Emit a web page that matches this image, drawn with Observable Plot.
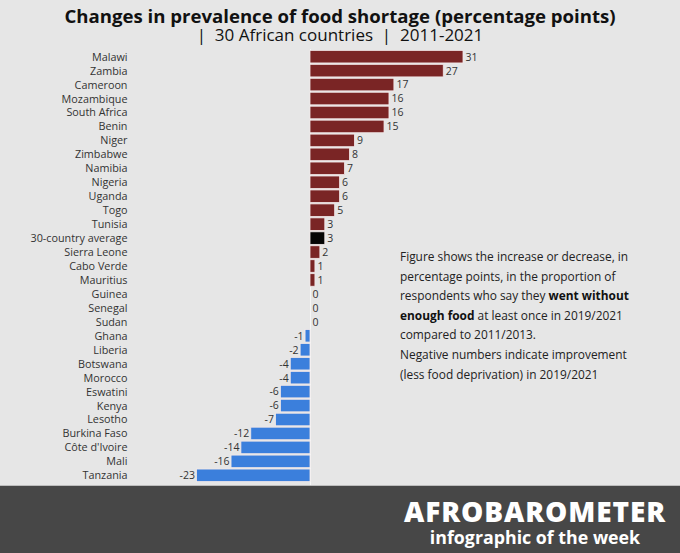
<!DOCTYPE html>
<html>
<head>
<meta charset="utf-8">
<script src="https://cdn.jsdelivr.net/npm/d3@7"></script>
<script src="https://cdn.jsdelivr.net/npm/@observablehq/plot@0.6"></script>
<style>
  html, body { margin: 0; padding: 0; }
  body { width: 680px; height: 553px; background: #e6e6e6; font-family: "Open Sans", sans-serif; position: relative; overflow: hidden; }
  #title { position: absolute; left: 0; width: 680px; top: 7px; text-align: center; font-weight: 700; font-size: 18.6px; color: #111; line-height: 18px; }
  #subtitle { position: absolute; left: 0; width: 680px; top: 26px; text-align: center; font-weight: 400; font-size: 17px; color: #111; line-height: 17px; }
  #chart { position: absolute; left: 0; top: 45px; width: 680px; }
  #chart svg { display: block; }
  #note { position: absolute; left: 400px; top: 247px; width: 275px; font-size: 11.9px; line-height: 19.6px; color: #222; }
  #note b { color: #111; }
  #footer { position: absolute; left: 0; top: 485px; width: 680px; height: 68px; background: #474747; border-top: 1px solid #bdbdbd; box-sizing: border-box; }
  #brand { position: absolute; left: 400px; top: 11px; width: 270px; text-align: center; color: #fff; font-weight: 800; font-size: 28px; letter-spacing: 0.9px; line-height: 28px; }
  #week { position: absolute; left: 400px; top: 42px; width: 270px; text-align: center; color: #fff; font-weight: 700; font-size: 17.8px; line-height: 18px; }
</style>
</head>
<body>
<div id="title">Changes in prevalence of food shortage (percentage points)</div>
<div id="subtitle">|&nbsp; 30 African countries &nbsp;|&nbsp; 2011-2021</div>
<div id="chart"></div>
<div id="note">Figure shows the increase or decrease, in<br>percentage points, in the proportion of<br>respondents who say they <b>went without</b><br><b>enough food</b> at least once in 2019/2021<br>compared to 2011/2013.<br>Negative numbers indicate improvement<br>(less food deprivation) in 2019/2021</div>
<div id="footer">
  <div id="brand">AFROBAROMETER</div>
  <div id="week">infographic of the week</div>
</div>
<script>
const countries = ["Malawi","Zambia","Cameroon","Mozambique","South Africa","Benin","Niger","Zimbabwe","Namibia","Nigeria","Uganda","Togo","Tunisia","30-country average","Sierra Leone","Cabo Verde","Mauritius","Guinea","Senegal","Sudan","Ghana","Liberia","Botswana","Morocco","Eswatini","Kenya","Lesotho","Burkina Faso","Côte d'Ivoire","Mali","Tanzania"];
const changes = [31,27,17,16,16,15,9,8,7,6,6,5,3,3,2,1,1,0,0,0,-1,-2,-4,-4,-6,-6,-7,-12,-14,-16,-23];
const averageLabel = "30-country average";

const data = countries.map((c, i) => ({
  country: c,
  value: changes[i],
  group: c === averageLabel ? "avg" : (changes[i] >= 0 ? "up" : "down")
}));

const chart = Plot.plot({
  width: 680,
  height: 440,
  marginTop: 4,
  marginBottom: 0,
  marginLeft: 130,
  marginRight: 217,
  style: { background: "transparent", fontFamily: "Open Sans, sans-serif" },
  x: { domain: [-36.47, 31], range: [130, 463], axis: null },
  y: { domain: countries, range: [4, 438], padding: 0.1, round: false, label: null },
  color: { domain: ["up", "down", "avg"], range: ["#7a2525", "#3b7fdc", "#050505"] },
  marks: [
    Plot.ruleX([0], { stroke: "#f6f6f6", strokeWidth: 1 }),
    Plot.barX(data.filter(d => d.value !== 0), {
      x: "value", y: "country", fill: "group", stroke: "#f3e9e9", strokeWidth: 0.8
    }),
    Plot.text(data.filter(d => d.value >= 0), {
      x: "value", y: "country", text: d => String(d.value), textAnchor: "start", dx: 2,
      fontSize: 10.5, fill: "#333"
    }),
    Plot.text(data.filter(d => d.value < 0), {
      x: "value", y: "country", text: d => String(d.value), textAnchor: "end", dx: -2,
      fontSize: 10.5, fill: "#333"
    }),
    Plot.axisY({ tickSize: 0, tickPadding: 3, fontSize: 10.8, color: "#333", label: null })
  ]
});
document.getElementById("chart").appendChild(chart);
</script>
</body>
</html>
